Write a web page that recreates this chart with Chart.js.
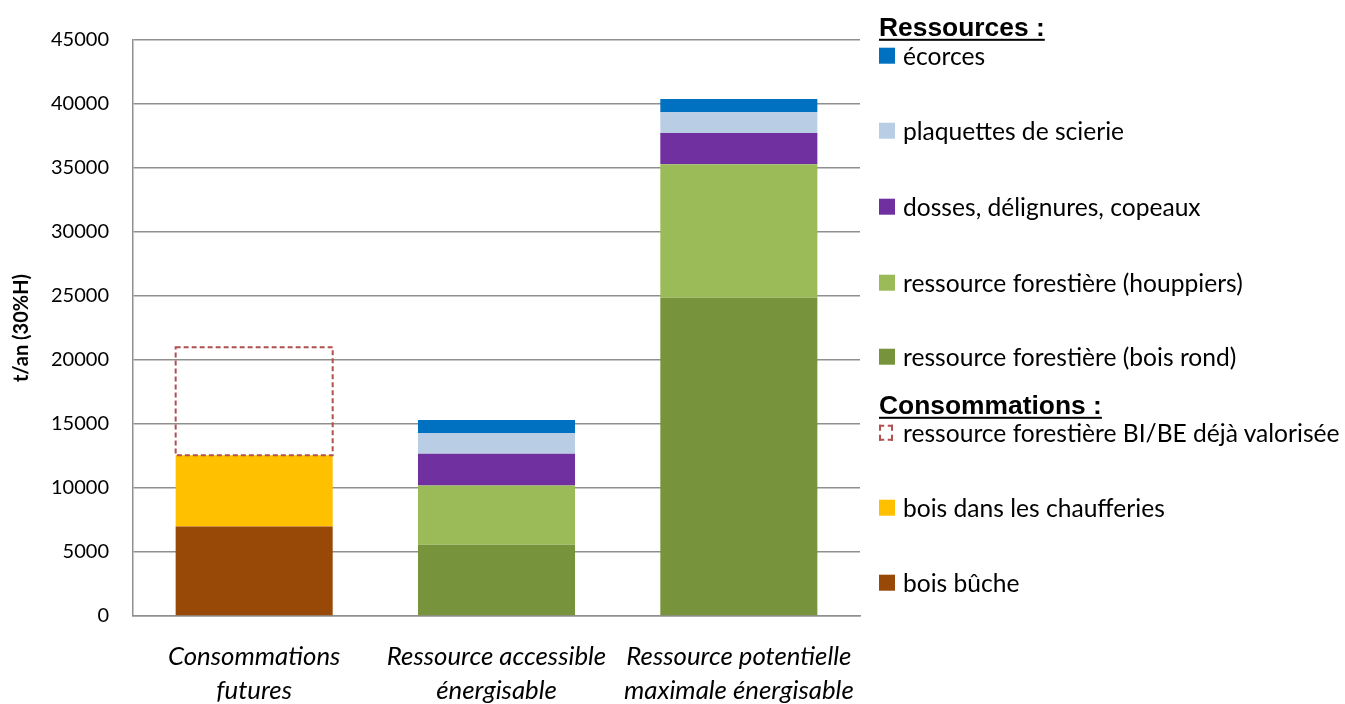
<!DOCTYPE html>
<html><head><meta charset="utf-8">
<script src="https://cdn.jsdelivr.net/npm/chart.js@4/dist/chart.umd.min.js"></script>
<style>
html,body{margin:0;padding:0;background:#fff;}
#wrap{position:relative;width:1345px;height:704px;overflow:hidden;}
canvas{position:absolute;left:0;top:0;}
#legend{position:absolute;left:0;top:0;width:1345px;height:704px;pointer-events:none;font-family:Lato,sans-serif;color:#000;}
.item{position:absolute;left:879px;display:flex;align-items:center;white-space:nowrap;font-size:24.6px;line-height:1;transform:translateY(-50%);}
.sw{width:16px;height:16px;margin-right:8px;box-sizing:border-box;flex:none;}
.head{position:absolute;left:879px;font-family:"Liberation Sans",Arial,sans-serif;font-weight:bold;font-size:26.4px;line-height:1;text-decoration:underline;text-decoration-thickness:2px;text-underline-offset:3px;transform:translateY(-50%);white-space:nowrap;}
</style></head>
<body>
<div id="wrap"><canvas id="c" width="1345" height="704"></canvas><div id="legend"></div></div>
<script>
// ---- data ----
const categories = [["Consommations","futures"],["Ressource accessible","énergisable"],["Ressource potentielle","maximale énergisable"]];
const boisBuche      = [7000, null, null];
const chaufferies    = [5550, null, null];
const dejaValorisee  = [8450, null, null];
const boisRond       = [null, 5570, 24870];
const houppiers      = [null, 4630, 10420];
const dosses         = [null, 2470, 2440];
const plaquettes     = [null, 1620, 1620];
const ecorces        = [null, 1030, 1040];
const yMin = 0, yMax = 45000, yStep = 5000;
const yTitle = "t/an (30%H)";
const headRessources = "Ressources :";
const headConsommations = "Consommations :";

const datasets = [
  {label:"bois bûche", data:boisBuche, backgroundColor:"#984807"},
  {label:"bois dans  les chaufferies", data:chaufferies, backgroundColor:"#FFC000"},
  {label:"ressource forestière BI/BE déjà valorisée", data:dejaValorisee, backgroundColor:"rgba(0,0,0,0)", dashed:true, dashColor:"#B0504F"},
  {label:"ressource forestière (bois rond)", data:boisRond, backgroundColor:"#77933C"},
  {label:"ressource forestière (houppiers)", data:houppiers, backgroundColor:"#9BBB59"},
  {label:"dosses, délignures, copeaux", data:dosses, backgroundColor:"#7030A0"},
  {label:"plaquettes de scierie", data:plaquettes, backgroundColor:"#B9CDE5"},
  {label:"écorces", data:ecorces, backgroundColor:"#0070C0"}
];

// legend layout (order + vertical centres)
const legendLayout = [
  {head:headRessources, y:27},
  {ds:7, y:56},{ds:6, y:131},{ds:5, y:207},{ds:4, y:283},{ds:3, y:357},
  {head:headConsommations, y:405},
  {ds:2, y:433},{ds:1, y:508},{ds:0, y:583}
];

const dashedBox = {
  id:'dashedBox',
  afterDatasetsDraw(chart){
    const ctx = chart.ctx;
    datasets.forEach((ds, di) => {
      if(!ds.dashed) return;
      const meta = chart.getDatasetMeta(di);
      ctx.save();
      ctx.strokeStyle = ds.dashColor; ctx.lineWidth = 2; ctx.setLineDash([5,3]);
      meta.data.forEach((el, i) => {
        if(ds.data[i] == null) return;
        const p = el.getProps(['x','y','base','width'], true);
        ctx.strokeRect(p.x - p.width/2, p.y, p.width, p.base - p.y);
      });
      ctx.restore();
    });
  }
};

function buildLegend(){
  const L = document.getElementById('legend');
  legendLayout.forEach(e => {
    const d = document.createElement('div');
    if(e.head){
      d.className = 'head'; d.textContent = e.head; d.style.top = e.y + 'px';
    } else {
      const ds = datasets[e.ds];
      d.className = 'item'; d.style.top = e.y + 'px';
      const sw = document.createElement('span'); sw.className = 'sw';
      if(ds.dashed){ sw.style.border = '2px dashed ' + ds.dashColor; sw.style.width='14px'; sw.style.height='16px'; sw.style.marginRight='10px'; }
      else sw.style.background = ds.backgroundColor;
      const t = document.createElement('span'); t.textContent = ds.label;
      d.appendChild(sw); d.appendChild(t);
    }
    L.appendChild(d);
  });
}

function draw(){
  buildLegend();
  new Chart(document.getElementById('c'), {
    type:'bar',
    data:{labels:categories, datasets:datasets.map(d => ({label:d.label, data:d.data, backgroundColor:d.backgroundColor, borderWidth:0, barPercentage:0.648, categoryPercentage:1}))},
    options:{
      responsive:false, animation:false, devicePixelRatio:1,
      layout:{padding:{left:0, right:485, top:40, bottom:0}},
      plugins:{legend:{display:false}, tooltip:{enabled:false}},
      scales:{
        x:{stacked:true,
           grid:{display:false, drawTicks:false},
           border:{display:true, color:'#8f8f8f', width:1.5},
           ticks:{font:{family:'Lato', size:25.8, style:'italic', lineHeight:1.3}, color:'#000', padding:24, maxRotation:0, autoSkip:false},
           afterFit(s){ s.height = 88; }},
        y:{stacked:true, min:yMin, max:yMax,
           ticks:{stepSize:yStep, font:{family:'Lato', size:20}, color:'#000', padding:24, callback:v => String(v)},
           grid:{color:'#8f8f8f', lineWidth:1.5, drawTicks:false},
           border:{color:'#8f8f8f', width:1.5},
           title:{display:true, text:yTitle, font:{family:'Lato', size:20, weight:'bold'}, color:'#000', padding:{top:10, bottom:0}},
           afterFit(s){ s.width = 133; }}
      }
    },
    plugins:[dashedBox]
  });
}
Promise.all([
  document.fonts.load('20px Lato'), document.fonts.load('italic 22px Lato'),
  document.fonts.load('bold 17px Lato'), document.fonts.load('bold 26px "Liberation Sans"')
]).then(draw, draw);
</script>
</body></html>
